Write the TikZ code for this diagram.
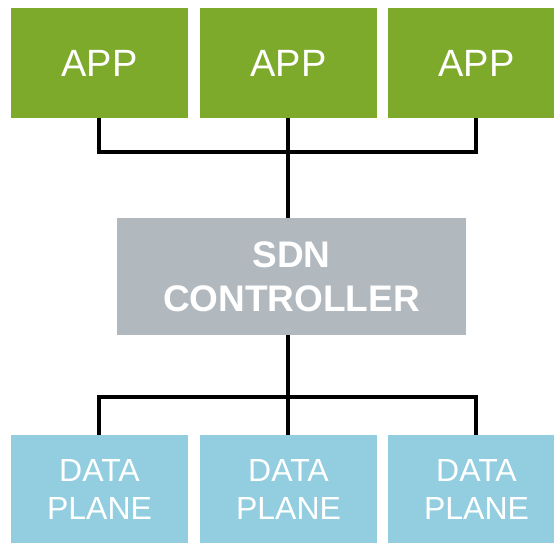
\documentclass[tikz,border=0pt]{standalone}
\usepackage{fontspec}
\setmainfont{Liberation Sans}
\definecolor{appgreen}{HTML}{7DAA2A}
\definecolor{ctrlgray}{HTML}{B1B8BE}
\definecolor{dpblue}{HTML}{92CEE0}
\begin{document}
\begin{tikzpicture}[x=1pt,y=1pt,
  appbox/.style={fill=appgreen,minimum width=177pt,minimum height=110pt,inner sep=0pt,text=white,font=\fontsize{38}{42}\selectfont},
  ctrlbox/.style={fill=ctrlgray,minimum width=349pt,minimum height=117pt,inner sep=0pt,text=white,align=center,font=\fontsize{37}{44}\selectfont\bfseries},
  dpbox/.style={fill=dpblue,minimum width=177pt,minimum height=108pt,inner sep=0pt,text=white,align=center,font=\fontsize{32}{38}\selectfont},
  link/.style={line width=3.2pt,black,line join=miter}]
\useasboundingbox (0,0) rectangle (554,542);
\clip (0,0) rectangle (554,542);
\node[appbox] (app1) at (99.5,479) {APP};
\node[appbox] (app2) at (288.5,479) {APP};
\node[appbox] (app3) at (476.5,479) {APP};
\node[ctrlbox] (ctrl) at (291.5,265.5) {SDN\\CONTROLLER};
\node[dpbox] (dp1) at (99.5,53) {DATA\\PLANE};
\node[dpbox] (dp2) at (288.5,53) {DATA\\PLANE};
\node[dpbox] (dp3) at (476.5,53) {DATA\\PLANE};
\coordinate (jt) at (288,390);
\coordinate (jb) at (288,145);
\draw[link] ([xshift=-0.5pt]app1.south) |- (jt) -| ([xshift=-0.5pt]app3.south);
\draw[link] ([xshift=-0.5pt]app2.south) -- ([xshift=-0.5pt]app2.south |- ctrl.north);
\draw[link] ([xshift=-0.5pt]dp1.north) |- (jb) -| ([xshift=-0.5pt]dp3.north);
\draw[link] ([xshift=-0.5pt]dp2.north) -- ([xshift=-0.5pt]dp2.north |- ctrl.south);
\end{tikzpicture}
\end{document}
